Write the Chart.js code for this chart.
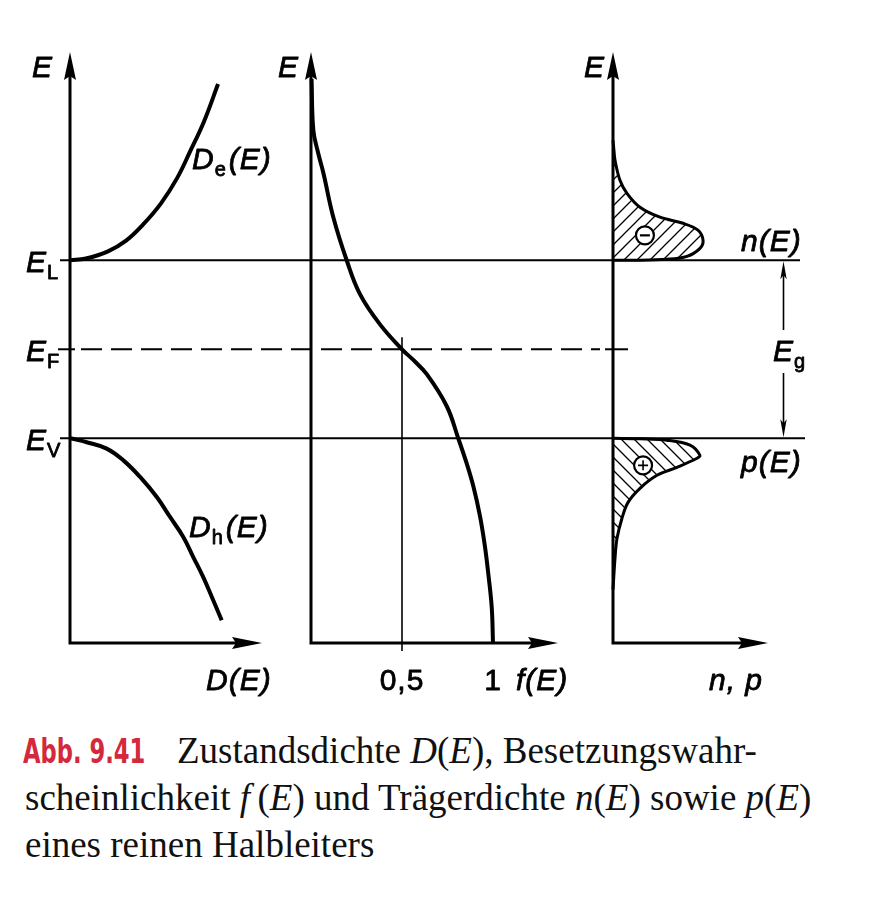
<!DOCTYPE html>
<html><head><meta charset="utf-8">
<script src="https://cdn.jsdelivr.net/npm/chart.js@4.4.0/dist/chart.umd.min.js"></script>
<style>
html,body{margin:0;padding:0;background:#fff;}
#wrap{position:relative;width:871px;height:908px;overflow:hidden;background:#fff;}
canvas{position:absolute;left:0;top:0;}
.cap{position:absolute;left:25px;font-family:"Liberation Serif","Times New Roman",serif;font-size:37px;line-height:47px;white-space:nowrap;color:#111;}
.abb{display:inline-block;width:154px;margin-left:-2px;}
.abbi{display:inline-block;font-family:"Liberation Sans Narrow","DejaVu Sans Condensed","Liberation Sans",sans-serif;font-weight:bold;font-size:34px;color:#d4283c;transform:scaleX(0.74);transform-origin:0 50%;}
</style></head>
<body><div id="wrap">
<canvas id="c1" width="871" height="700"></canvas>
<canvas id="c2" width="871" height="700"></canvas>
<canvas id="c3" width="871" height="700"></canvas>
<div class="cap" style="top:727px"><span class="abb"><span class="abbi">Abb. 9.41</span></span>Zustandsdichte <i>D</i>(<i>E</i>), Besetzungswahr-</div>
<div class="cap" style="top:774px">scheinlichkeit <i>f</i>&#8201;(<i>E</i>) und Trägerdichte <i>n</i>(<i>E</i>) sowie <i>p</i>(<i>E</i>)</div>
<div class="cap" style="top:821px">eines reinen Halbleiters</div>
</div>
<script>
// ---------- data ----------
const energyLevels = [1, 0.5, 0];          // E_L, E_F, E_V
const levelSubs = ['L', 'F', 'V'];
const deE = [1.00, 1.01, 1.05, 1.11, 1.20, 1.32, 1.46, 1.61, 1.78, 1.99];
const deD = [0, 0.083, 0.198, 0.292, 0.380, 0.474, 0.557, 0.625, 0.698, 0.771];
const dhE = [0, -0.022, -0.058, -0.124, -0.217, -0.33, -0.442, -0.554, -0.667, -0.78, -0.91, -1.022];
const dhD = [0, 0.087, 0.191, 0.278, 0.365, 0.452, 0.521, 0.590, 0.642, 0.694, 0.746, 0.790];
const fE   = [2.02, 1.73, 1.60, 1.49, 1.24, 1.00, 0.81, 0.64, 0.50, 0.44, 0.36, 0.18, 0.00, -0.14, -0.27, -0.44, -0.61, -0.76, -0.95, -1.15];
const fVal = [0.003, 0.013, 0.040, 0.068, 0.123, 0.196, 0.269, 0.379, 0.5, 0.562, 0.636, 0.746, 0.809, 0.855, 0.892, 0.929, 0.956, 0.974, 0.993, 1.0];
const fTicks = [0.5, 1];
const fTickLabels = ['0,5', '1'];
const nE   = [1.674, 1.618, 1.562, 1.449, 1.376, 1.298, 1.242, 1.208, 1.169, 1.112, 1.067, 1.022, 1.006, 1.0, 1.0];
const nVal = [0, 0.006, 0.013, 0.045, 0.090, 0.174, 0.303, 0.452, 0.548, 0.581, 0.561, 0.477, 0.348, 0.129, 0];
const pE   = [0, -0.003, -0.011, -0.039, -0.096, -0.112, -0.163, -0.208, -0.281, -0.360, -0.449, -0.562, -0.674, -0.85];
const pVal = [0, 0.174, 0.348, 0.497, 0.561, 0.542, 0.413, 0.284, 0.174, 0.097, 0.058, 0.026, 0.013, 0];
const nSign = {x: 0.206, y: 1.14};
const pSign = {x: 0.194, y: -0.152};

const zip = (xs, ys) => xs.map((v, i) => ({x: v, y: ys[i]}));
const Y_MIN = -1.15, Y_MAX = 2.17;
const SANS = '"Liberation Sans", Arial, sans-serif';
const LBL = 30, SUB = 20;

function arrowHead(ctx, x, y, dir, len, hw) {
  ctx.beginPath();
  if (dir === 'up') { ctx.moveTo(x, y); ctx.lineTo(x - hw, y + len); ctx.lineTo(x, y + len - 4); ctx.lineTo(x + hw, y + len); }
  else if (dir === 'down') { ctx.moveTo(x, y); ctx.lineTo(x - hw, y - len); ctx.lineTo(x, y - len + 4); ctx.lineTo(x + hw, y - len); }
  else { ctx.moveTo(x, y); ctx.lineTo(x - len, y - hw); ctx.lineTo(x - len + 4, y); ctx.lineTo(x - len, y + hw); }
  ctx.closePath(); ctx.fill();
}
function label(ctx, txt, x, y, size, italic, align) {
  ctx.save();
  ctx.font = (italic ? 'italic ' : '') + size + 'px ' + SANS;
  ctx.textAlign = align || 'left';
  ctx.textBaseline = 'alphabetic';
  try { ctx.letterSpacing = (size >= 26 ? '1px' : '0px'); } catch (e) {}
  ctx.fillStyle = '#000'; ctx.strokeStyle = '#000'; ctx.lineWidth = 0.8; ctx.lineJoin = 'round';
  ctx.fillText(txt, x, y);
  ctx.strokeText(txt, x, y);
  const w = ctx.measureText(txt).width;
  ctx.restore();
  return w;
}
function subLabel(ctx, base, sub, rest, x, y) {
  const w = label(ctx, base, x, y, LBL, true);
  const w2 = label(ctx, sub, x + w, y + 7, SUB, false);
  if (rest) label(ctx, rest, x + w + w2 + 3, y, LBL, true);
}
function hatch(up) {
  const s = 13, c = document.createElement('canvas');
  c.width = s; c.height = s;
  const g = c.getContext('2d');
  g.strokeStyle = '#000'; g.lineWidth = 1.3; g.beginPath();
  if (up) { g.moveTo(-2, s + 2); g.lineTo(s + 2, -2); g.moveTo(-2, 2); g.lineTo(2, -2); g.moveTo(s - 2, s + 2); g.lineTo(s + 2, s - 2); }
  else { g.moveTo(-2, -2); g.lineTo(s + 2, s + 2); g.moveTo(s - 2, -2); g.lineTo(s + 2, 2); g.moveTo(-2, s - 2); g.lineTo(2, s + 2); }
  g.stroke();
  return g.createPattern(c, 'repeat');
}

const axesPlugin = {
  id: 'axesArrows',
  beforeDatasetsDraw(chart) {
    const {ctx, chartArea: a} = chart;
    ctx.save();
    ctx.strokeStyle = '#000'; ctx.fillStyle = '#000'; ctx.lineWidth = 3; ctx.lineJoin = 'miter';
    ctx.beginPath(); ctx.moveTo(a.left, a.top + 22); ctx.lineTo(a.left, a.bottom); ctx.lineTo(a.right - 22, a.bottom); ctx.stroke();
    arrowHead(ctx, a.left, a.top, 'up', 28, 6);
    arrowHead(ctx, a.right, a.bottom, 'right', 30, 6);
    ctx.restore();
  }
};

function baseOptions(pad, xMax) {
  return {
    responsive: false, animation: false, events: [],
    layout: {padding: pad},
    plugins: {legend: {display: false}, tooltip: {enabled: false}},
    scales: {
      x: {type: 'linear', display: false, min: 0, max: xMax},
      y: {type: 'linear', display: false, min: Y_MIN, max: Y_MAX}
    }
  };
}
const lineDs = (data, w) => ({data, showLine: true, borderColor: '#000', borderWidth: w, pointRadius: 0, tension: 0.4, fill: false, clip: 12});

// ---------- chart 1: D(E) ----------
const levelsPlugin = {
  id: 'levels',
  beforeDatasetsDraw(chart) {
    const {ctx, scales: {y}, chartArea: a} = chart;
    ctx.save(); ctx.strokeStyle = '#000'; ctx.lineWidth = 2;
    const yL = y.getPixelForValue(energyLevels[0]);
    const yF = y.getPixelForValue(energyLevels[1]);
    const yV = y.getPixelForValue(energyLevels[2]);
    ctx.beginPath(); ctx.moveTo(60, yL); ctx.lineTo(800, yL); ctx.stroke();
    ctx.beginPath(); ctx.moveTo(60, yV); ctx.lineTo(805, yV); ctx.stroke();
    ctx.beginPath(); ctx.moveTo(58, yF); ctx.lineTo(75, yF); ctx.stroke();
    ctx.setLineDash([21, 9]); ctx.lineDashOffset = 0;
    ctx.beginPath(); ctx.moveTo(81, yF); ctx.lineTo(600, yF); ctx.stroke();
    ctx.setLineDash([]);
    ctx.beginPath(); ctx.moveTo(605, yF); ctx.lineTo(628, yF); ctx.stroke();
    ctx.restore();
    label(ctx, 'E', 32, a.top + 25, LBL, true);
    energyLevels.forEach((v, i) => subLabel(ctx, 'E', levelSubs[i], '', 26, y.getPixelForValue(v) + 12));
    subLabel(ctx, 'D', 'e', '(E)', 192, 169);
    subLabel(ctx, 'D', 'h', '(E)', 189, 537);
    label(ctx, 'D(E)', 206, 690, LBL, true);
  }
};
new Chart(document.getElementById('c1'), {
  type: 'scatter',
  data: {datasets: [lineDs(zip(deD, deE), 4), lineDs(zip(dhD, dhE), 4)]},
  options: baseOptions({left: 70, right: 871 - 262, top: 52, bottom: 700 - 643}, 1.0),
  plugins: [levelsPlugin, axesPlugin]
});

// ---------- chart 2: f(E) ----------
const fPlugin = {
  id: 'fLabels',
  beforeDatasetsDraw(chart) {
    const {ctx, scales: {x, y}, chartArea: a} = chart;
    ctx.save(); ctx.strokeStyle = '#000'; ctx.lineWidth = 1.6;
    const xh = x.getPixelForValue(fTicks[0]);
    ctx.beginPath(); ctx.moveTo(xh, y.getPixelForValue(energyLevels[1]) - 12); ctx.lineTo(xh, a.bottom + 8); ctx.stroke();
    ctx.restore();
    fTicks.forEach((t, i) => label(ctx, fTickLabels[i], x.getPixelForValue(t), 690, LBL, false, 'center'));
    label(ctx, 'f(E)', 516, 690, LBL, true);
    label(ctx, 'E', 278, a.top + 25, LBL, true);
  }
};
new Chart(document.getElementById('c2'), {
  type: 'scatter',
  data: {datasets: [lineDs(zip(fVal, fE), 4)]},
  options: baseOptions({left: 311, right: 871 - 558, top: 52, bottom: 700 - 643}, (558 - 311) / 182),
  plugins: [fPlugin, axesPlugin]
});

// ---------- chart 3: n, p ----------
const npPlugin = {
  id: 'npLabels',
  beforeDatasetsDraw(chart) {
    const {ctx, scales: {x, y}, chartArea: a} = chart;
    ctx.save(); ctx.strokeStyle = '#000'; ctx.fillStyle = '#000'; ctx.lineWidth = 1.6;
    const xg = x.getPixelForValue(1.1);
    const yL = y.getPixelForValue(energyLevels[0]);
    const yV = y.getPixelForValue(energyLevels[2]);
    ctx.beginPath(); ctx.moveTo(xg, yL + 10); ctx.lineTo(xg, 330); ctx.moveTo(xg, 373); ctx.lineTo(xg, yV - 10); ctx.stroke();
    arrowHead(ctx, xg, yL + 1, 'up', 18, 3.2);
    arrowHead(ctx, xg, yV - 1, 'down', 18, 3.2);
    ctx.restore();
    subLabel(ctx, 'E', 'g', '', 773, 361);
    label(ctx, 'n(E)', 741, 251, LBL, true);
    label(ctx, 'p(E)', 741, 472, LBL, true);
    label(ctx, 'n, p', 709, 690, LBL, true);
    label(ctx, 'E', 584, a.top + 25, LBL, true);
  }
};
const ctx3 = document.getElementById('c3').getContext('2d');
const shapeDs = (data, pat) => Object.assign(lineDs(data, 3), {fill: 'shape', backgroundColor: pat, tension: 0.35});
new Chart(ctx3, {
  type: 'scatter',
  data: {datasets: [
    {data: [nSign], pointStyle: 'line', pointRadius: 5, borderColor: '#000', pointBorderWidth: 2.2, order: 0},
    {data: [pSign], pointStyle: 'cross', pointRadius: 5, borderColor: '#000', pointBorderWidth: 1.6, order: 0},
    {data: [nSign, pSign], pointStyle: 'circle', pointRadius: 9, backgroundColor: '#fff', borderColor: '#000', pointBorderWidth: 2.2, order: 1},
    Object.assign(shapeDs(zip(nVal, nE), hatch(true)), {order: 2}),
    Object.assign(shapeDs(zip(pVal, pE), hatch(false)), {order: 2})
  ]},
  options: baseOptions({left: 613, right: 871 - 768, top: 52, bottom: 700 - 643}, 1.0),
  plugins: [npPlugin, axesPlugin]
});
</script>
</body></html>
